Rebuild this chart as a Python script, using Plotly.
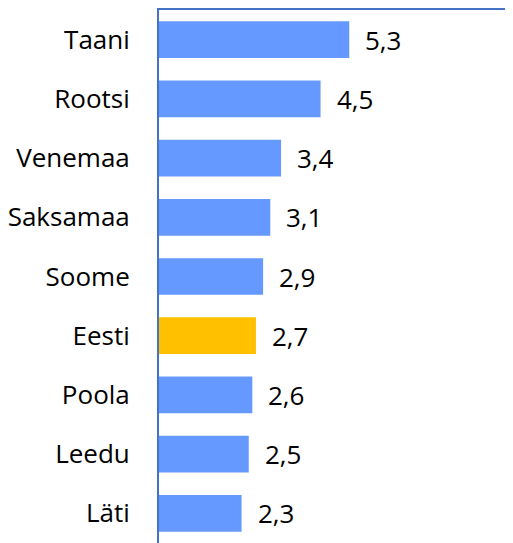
import plotly.graph_objects as go

countries = ["Taani", "Rootsi", "Venemaa", "Saksamaa", "Soome", "Eesti", "Poola", "Leedu", "Läti"]
values = [5.3, 4.5, 3.4, 3.1, 2.9, 2.7, 2.6, 2.5, 2.3]
highlight = "Eesti"

BLUE = "#6699FF"
GOLD = "#FFC000"
LINE = "#4472C4"
FONT = "Open Sans"
FS = 26

colors = [GOLD if c == highlight else BLUE for c in countries]

fig = go.Figure()
fig.add_trace(go.Bar(
    x=values, y=countries, orientation="h",
    marker=dict(color=colors, line=dict(width=0)),
    hoverinfo="skip",
))

for c, v in zip(countries, values):
    fig.add_annotation(
        x=v, y=c, text=f"{v:.1f}".replace(".", ","),
        showarrow=False, xanchor="left", yanchor="middle", xshift=14,
        font=dict(family=FONT, size=FS, color="#000000"),
    )

fig.update_layout(
    width=505, height=535,
    margin=dict(l=151, r=0, t=2, b=0, autoexpand=False),
    paper_bgcolor="white", plot_bgcolor="white",
    bargap=0.38,
    showlegend=False,
    separators=", ",
    font=dict(family=FONT, size=FS, color="#000000"),
)
fig.update_xaxes(
    range=[0, 9.86], side="top", showline=True, linecolor=LINE, linewidth=2,
    showgrid=False, zeroline=False, showticklabels=False, ticks="",
    fixedrange=True,
)
fig.update_yaxes(
    categoryorder="array", categoryarray=countries, autorange="reversed",
    showline=True, linecolor=LINE, linewidth=2, showgrid=False, zeroline=False,
    ticks="outside", ticklen=22, tickcolor="rgba(0,0,0,0)",
    tickfont=dict(family=FONT, size=FS, color="#000000"),
    automargin=False, fixedrange=True,
)

fig.write_html("out.html", config={"displayModeBar": False})
